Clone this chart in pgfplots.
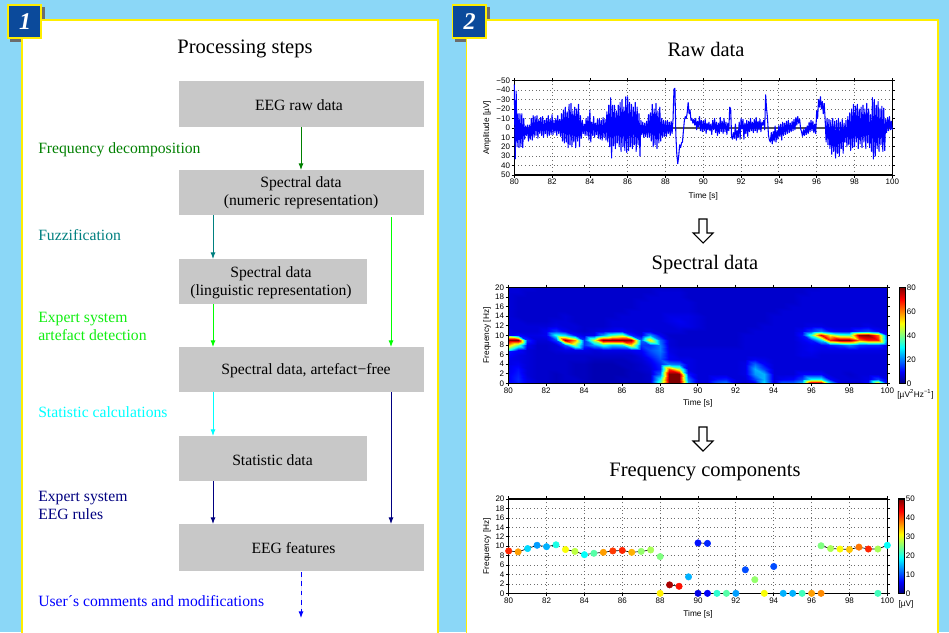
\documentclass[border=0pt]{standalone}
\usepackage{fontspec}
\setmainfont{Liberation Serif}
\newfontfamily\lsans{Liberation Sans}
\usepackage{pgfplots}
\usepackage{pgfplotstable}
\pgfplotsset{compat=1.18}
\usetikzlibrary{arrows.meta}
\definecolor{bgblue}{HTML}{8BD7F7}
\definecolor{pyellow}{HTML}{FFEE00}
\definecolor{lblue}{HTML}{0B4A9B}
\definecolor{boxgray}{HTML}{C8C8C8}
\definecolor{zline}{HTML}{555555}
\definecolor{limetext}{HTML}{11EE11}
\definecolor{cgreen}{RGB}{0,128,0}
\definecolor{cteal}{RGB}{0,128,128}
\definecolor{clime}{RGB}{0,255,0}
\definecolor{ccyan}{RGB}{0,255,255}
\definecolor{cnavy}{RGB}{0,0,128}
\definecolor{cblue}{RGB}{0,0,255}
\pgfplotsset{
 eegaxis/.style={scale only axis,anchor=south west,clip=false,
  xmin=80,xmax=100,xtick={80,82,...,100},
  tick align=outside,major tick length=2pt,
  tick style={black,line width=0.5pt},
  /pgf/number format/assume math mode=true,
  tick label style={font=\lsans\fontsize{6}{7}\selectfont,inner sep=1pt},
  xticklabel style={/pgf/number format/1000 sep={}},
  colormap/jet},
 dotgrid/.style={grid=major,grid style={gray!85!black,dash pattern=on 0.7pt off 2pt,line width=0.6pt}},
 cbstyle/.style={/pgf/number format/assume math mode=true,major tick length=0pt,
  tick label style={font=\lsans\fontsize{6}{7}\selectfont,inner sep=1pt}},
}
\newcommand{\axlab}{\lsans\fontsize{6.2}{7}\selectfont}
% Raw signal, one value every 0.05 s from 80 s
\pgfplotstableread[row sep=crcr]{v\\
-46\\33\\-39\\20\\-15\\21\\-15\\20\\-15\\21\\-10\\12\\-2\\8\\-3\\14\\-3\\12\\-10\\13\\
-13\\10\\-12\\8\\-13\\11\\-9\\6\\-11\\8\\-12\\10\\-8\\6\\-10\\9\\-13\\8\\-9\\7\\
-14\\7\\-8\\5\\-10\\8\\-13\\6\\-9\\9\\-15\\14\\-19\\16\\-22\\15\\-17\\21\\-25\\18\\
-26\\20\\-18\\15\\-22\\21\\-20\\14\\-25\\20\\-13\\11\\-8\\6\\-4\\8\\-10\\8\\-12\\13\\
-19\\15\\-6\\8\\-12\\10\\-5\\7\\-9\\11\\-10\\12\\-8\\13\\-11\\10\\-9\\13\\-17\\15\\
-24\\20\\-32\\32\\-24\\19\\-24\\22\\-18\\16\\-24\\20\\-27\\25\\-30\\20\\-22\\24\\-33\\26\\
-33\\24\\-27\\20\\-25\\22\\-22\\18\\-27\\25\\-22\\18\\-15\\30\\-8\\7\\-6\\10\\-5\\9\\
-7\\10\\-14\\10\\-16\\14\\-25\\20\\-20\\18\\-26\\22\\-18\\16\\-22\\14\\-10\\10\\-8\\9\\
-7\\9\\-8\\6\\-6\\8\\-7\\6\\-9\\-41\\-42\\8\\28\\38\\30\\18\\21\\16\\15\\3\\
-8\\-12\\-10\\-16\\-27\\-15\\-19\\-8\\-10\\-5\\-9\\-3\\-10\\2\\-7\\-1\\-12\\3\\-8\\4\\
-7\\3\\-9\\6\\-5\\2\\-6\\3\\-4\\7\\-8\\2\\-10\\5\\-6\\8\\-5\\6\\-11\\4\\
-7\\6\\-10\\4\\-6\\7\\-5\\3\\-22\\-20\\10\\12\\5\\11\\-4\\13\\3\\10\\-6\\12\\
-10\\1\\-9\\12\\-5\\6\\-8\\9\\-7\\4\\-10\\3\\-6\\5\\-9\\3\\-11\\5\\-7\\2\\
-9\\4\\-6\\-3\\-8\\2\\-35\\-20\\-10\\8\\13\\15\\5\\17\\4\\14\\-2\\15\\3\\12\\
-3\\9\\-4\\13\\-6\\8\\-5\\7\\-7\\6\\-8\\5\\-5\\4\\-7\\3\\-9\\2\\-11\\-3\\
-12\\-5\\-9\\1\\4\\9\\2\\8\\0\\7\\-2\\6\\-6\\4\\-8\\3\\-7\\5\\-4\\6\\
-18\\-10\\-30\\-22\\-33\\-20\\-28\\-15\\-26\\-8\\15\\-10\\18\\-9\\22\\-8\\28\\-10\\25\\-7\\
32\\-8\\27\\-10\\30\\-6\\22\\-9\\27\\-5\\15\\-8\\20\\-12\\18\\-16\\24\\-20\\21\\-25\\
20\\-23\\15\\-25\\22\\-20\\17\\-22\\21\\-24\\15\\-20\\22\\-26\\16\\-20\\21\\-14\\25\\-32\\
33\\-30\\30\\-24\\22\\-28\\25\\-20\\18\\-23\\25\\-21\\24\\-9\\5\\-11\\3\\-12\\2\\-7\\
2\\
}\rawdata
% Spectrogram: rows 0..20 Hz, columns 80..100 s every 0.5 s
\pgfplotstableread[row sep=crcr]{z\\
10\\12\\8\\7\\6\\5\\6\\6\\5\\5\\5\\5\\5\\5\\5\\6\\38\\92\\92\\22\\7\\8\\17\\20\\8\\7\\10\\28\\8\\18\\18\\25\\88\\88\\28\\8\\7\\7\\11\\55\\11\\
9\\13\\8\\6\\6\\5\\6\\6\\5\\4\\4\\4\\5\\5\\5\\6\\30\\96\\96\\18\\7\\7\\11\\12\\7\\7\\15\\24\\7\\9\\10\\15\\30\\30\\10\\7\\7\\7\\8\\15\\8\\
9\\12\\7\\6\\6\\5\\6\\5\\5\\4\\4\\4\\4\\5\\5\\6\\18\\88\\90\\12\\7\\7\\7\\7\\7\\8\\22\\24\\7\\7\\7\\10\\10\\10\\7\\7\\6\\7\\7\\7\\7\\
9\\11\\7\\6\\6\\6\\6\\5\\5\\4\\4\\4\\4\\5\\6\\7\\12\\65\\45\\8\\7\\7\\7\\7\\7\\8\\24\\15\\7\\7\\7\\7\\7\\7\\7\\7\\7\\7\\7\\7\\7\\
8\\9\\7\\6\\6\\6\\6\\5\\5\\4\\4\\4\\5\\5\\6\\8\\13\\20\\18\\8\\7\\7\\7\\7\\7\\8\\18\\10\\7\\7\\7\\7\\7\\7\\7\\7\\7\\7\\7\\7\\7\\
8\\8\\7\\6\\6\\6\\6\\6\\6\\5\\5\\5\\5\\6\\7\\10\\16\\9\\8\\8\\7\\7\\7\\7\\7\\7\\9\\8\\7\\7\\7\\7\\7\\7\\7\\7\\7\\7\\7\\7\\7\\
9\\8\\7\\6\\6\\6\\6\\6\\6\\6\\6\\6\\6\\6\\8\\13\\18\\9\\7\\7\\7\\7\\7\\7\\7\\7\\7\\7\\7\\7\\7\\8\\8\\7\\7\\7\\7\\7\\7\\7\\7\\
12\\10\\7\\6\\6\\7\\8\\8\\8\\7\\8\\8\\8\\9\\10\\16\\20\\8\\7\\7\\7\\7\\7\\7\\7\\7\\7\\7\\7\\7\\7\\8\\9\\8\\8\\8\\8\\8\\8\\8\\7\\
32\\38\\9\\6\\6\\7\\16\\42\\14\\22\\32\\26\\28\\52\\14\\14\\20\\7\\6\\6\\6\\6\\6\\6\\6\\7\\7\\7\\7\\7\\7\\8\\9\\9\\12\\15\\20\\14\\13\\13\\8\\
88\\90\\13\\7\\7\\15\\78\\58\\14\\46\\92\\98\\98\\78\\18\\52\\18\\7\\6\\6\\6\\6\\6\\6\\6\\7\\7\\7\\7\\7\\7\\9\\12\\28\\68\\82\\88\\60\\68\\68\\16\\
32\\11\\8\\8\\9\\32\\28\\11\\8\\9\\22\\36\\42\\13\\8\\22\\9\\6\\6\\6\\6\\6\\6\\6\\6\\7\\7\\7\\7\\7\\7\\11\\36\\72\\50\\38\\36\\78\\88\\62\\12\\
9\\7\\7\\7\\9\\14\\9\\7\\6\\7\\8\\9\\10\\8\\7\\8\\7\\7\\7\\6\\6\\6\\6\\6\\6\\6\\7\\7\\7\\7\\7\\9\\14\\20\\11\\9\\9\\14\\16\\10\\8\\
7\\7\\7\\7\\7\\8\\7\\7\\6\\6\\6\\7\\7\\7\\7\\7\\7\\7\\8\\8\\7\\6\\6\\6\\6\\6\\6\\7\\7\\7\\7\\7\\8\\8\\7\\7\\7\\7\\8\\7\\7\\
7\\7\\6\\6\\6\\7\\7\\6\\6\\6\\6\\7\\7\\7\\7\\7\\7\\8\\9\\8\\7\\6\\6\\6\\6\\6\\6\\6\\7\\7\\7\\7\\7\\7\\7\\7\\7\\7\\7\\7\\7\\
7\\6\\6\\6\\6\\6\\7\\6\\6\\6\\6\\6\\7\\7\\7\\7\\7\\8\\8\\8\\7\\6\\6\\6\\6\\6\\6\\6\\7\\7\\7\\7\\7\\7\\7\\7\\7\\7\\7\\7\\7\\
7\\6\\6\\6\\6\\6\\6\\6\\6\\6\\6\\6\\6\\7\\7\\7\\7\\7\\7\\7\\6\\6\\6\\6\\6\\6\\6\\6\\6\\7\\7\\7\\7\\7\\7\\7\\7\\7\\7\\7\\7\\
7\\6\\6\\6\\6\\6\\6\\6\\6\\6\\6\\6\\6\\6\\7\\7\\7\\7\\7\\7\\6\\6\\6\\6\\6\\6\\6\\6\\6\\6\\7\\7\\7\\7\\7\\7\\7\\7\\7\\7\\7\\
7\\6\\6\\6\\6\\6\\6\\6\\6\\6\\6\\6\\6\\6\\7\\7\\7\\7\\7\\7\\6\\6\\6\\6\\6\\6\\6\\6\\6\\6\\6\\7\\7\\7\\7\\7\\7\\7\\7\\7\\7\\
7\\6\\6\\6\\6\\6\\6\\6\\6\\6\\6\\6\\6\\6\\6\\7\\7\\7\\7\\6\\6\\6\\6\\6\\6\\6\\6\\6\\6\\6\\6\\7\\7\\7\\7\\7\\7\\7\\7\\7\\7\\
7\\7\\6\\6\\6\\6\\6\\6\\6\\6\\6\\6\\6\\6\\6\\6\\7\\7\\7\\6\\6\\6\\6\\6\\6\\6\\6\\6\\6\\6\\6\\6\\7\\7\\7\\7\\7\\7\\7\\7\\7\\
7\\7\\7\\6\\6\\6\\6\\6\\6\\6\\6\\6\\6\\6\\6\\6\\6\\6\\6\\6\\6\\6\\6\\6\\6\\6\\6\\6\\6\\6\\6\\6\\6\\7\\7\\7\\7\\7\\7\\7\\7\\
}\specdata
% Frequency components: time, frequency, amplitude
\pgfplotstableread{
t f a
80 9.0 42
80.5 8.8 36
81 9.5 17
81.5 10.2 14
82 9.9 15
82.5 10.3 20
83 9.3 31
83.5 8.9 28
84 8.2 19
84.5 8.5 23
85 8.7 36
85.5 9.0 41
86 9.1 42
86.5 8.7 35
87 8.9 26
87.5 9.2 27
88 7.8 25
88.5 1.8 48
89 1.5 43
89.5 3.5 15
90 10.7 7
90.5 10.6 8
92.5 5.0 10
93 2.9 26
94 5.7 10
96.5 10.1 25
97 9.5 27
97.5 9.4 31
98 9.3 34
98.5 9.8 38
99 9.4 42
99.5 9.4 27
100 10.2 19
88 0 32
90 0 5
90.5 0 6
91 0 21
91.5 0 23
92 0 14
93.5 0 31
94.5 0 15
95 0 15
95.5 0 22
96 0 36
96.5 0 37
99.5 0 22
}\compdata
\begin{document}
\begin{tikzpicture}
\begin{scope}[x=0.75pt,y=-0.75pt]
\path[use as bounding box,fill=bgblue] (0,0) rectangle (949,632);
% shadows
\fill[gray!85!black] (10,7) rectangle (45,42);
\fill[gray!85!black] (455,7) rectangle (490,42);
% panels
\begin{scope}
\clip (0,0) rectangle (949,632);
\draw[pyellow,fill=white,line width=1.4pt] (22,20) rectangle (438,640);
\draw[pyellow,fill=white,line width=1.4pt] (466.5,20) rectangle (938,640);
\end{scope}
% number tags
\draw[pyellow,fill=lblue,line width=1.4pt] (8,5) rectangle (41,38);
\draw[pyellow,fill=lblue,line width=1.4pt] (452.5,5) rectangle (486,38);
\node[white,font=\fontsize{18}{20}\selectfont\bfseries\itshape] at (25,21.5) {1};
\node[white,font=\fontsize{18}{20}\selectfont\bfseries\itshape] at (469.5,21.5) {2};
% flow chart
\fill[boxgray] (179,81) rectangle (424,127);
\fill[boxgray] (179,170) rectangle (424,215);
\fill[boxgray] (179,259) rectangle (367,304);
\fill[boxgray] (179,347) rectangle (424,392);
\fill[boxgray] (179,436) rectangle (367,481);
\fill[boxgray] (179,524) rectangle (424,571);
\tikzset{box/.style={font=\fontsize{11.75}{13.5}\selectfont,align=center},
 lab/.style={font=\fontsize{11.75}{13.5}\selectfont,anchor=west,align=left,inner sep=0pt},
 arr/.style={line width=0.7pt,-{Latex[length=5pt,width=3.8pt]}}}
\node[box] at (299,105.5) {EEG raw data};
\node[box] at (301,193) {Spectral data\\(numeric representation)};
\node[box] at (271,282.5) {Spectral data\\(linguistic representation)};
\node[box] at (306,370.5) {Spectral data, artefact−free};
\node[box] at (272.5,460.5) {Statistic data};
\node[box] at (293.5,548.5) {EEG features};
\draw[arr,draw=cgreen,fill=cgreen] (301,127) -- (301,170);
\draw[arr,draw=cteal,fill=cteal] (213,215) -- (213,259);
\draw[arr,draw=clime,fill=clime] (213,304) -- (213,347);
\draw[arr,draw=clime,fill=clime] (391,217) -- (391,347);
\draw[arr,draw=ccyan,fill=ccyan] (213,392) -- (213,436);
\draw[arr,draw=cnavy,fill=cnavy] (213,481) -- (213,524);
\draw[arr,draw=cnavy,fill=cnavy] (391,392) -- (391,524);
\draw[arr,draw=cblue,fill=cblue,dash pattern=on 3.5pt off 3.5pt] (301,572) -- (301,618);
\node[lab,text=cgreen] at (38,149.5) {Frequency decomposition};
\node[lab,text=cteal] at (38,235) {Fuzzification};
\node[lab,text=limetext] at (38,326.5) {Expert system\\artefact detection};
\node[lab,text=ccyan] at (38,412.5) {Statistic calculations};
\node[lab,text=cnavy] at (38,505.5) {Expert system\\EEG rules};
\node[lab,text=cblue] at (38,601.5) {User´s comments and modifications};
% titles
\tikzset{ttl/.style={font=\fontsize{15.4}{17}\selectfont}}
\node[ttl] at (245,48.5) {Processing steps};
\node[ttl] at (706,49.5) {Raw data};
\node[ttl] at (705,265) {Spectral data};
\node[ttl] at (705,472) {Frequency components};
% hollow arrows
\draw[black,line width=0.8pt,line join=miter] (699,219) -- (707,219) -- (707,233) -- (713,233) -- (703,243) -- (693,233) -- (699,233) -- cycle;
\draw[black,line width=0.8pt,line join=miter] (699,427) -- (707,427) -- (707,441) -- (713,441) -- (703,451) -- (693,441) -- (699,441) -- cycle;
\end{scope}

% Raw data
\begin{axis}[eegaxis,dotgrid,at={(385.7pt,-131.25pt)},width=283.5pt,height=70.7pt,
 ymin=-50,ymax=50,y dir=reverse,
 ytick={-50,-40,...,50},
 yticklabels={−50,−40,−30,−20,−10,0,10,20,30,40,50},
 axis line style={line width=0.9pt},
 xlabel={Time [s]},ylabel={Amplitude [µV]},
 every axis x label/.style={at={(axis description cs:0.5,-0.23)},anchor=center,font=\axlab},
 every axis y label/.style={at={(axis description cs:-0.072,0.5)},anchor=center,rotate=90,font=\axlab}]
\addplot[zline,line width=1pt] coordinates {(80,0) (100,0)};
\addplot[blue,line width=0.8pt,line join=round] table[x expr=80+0.05*\coordindex,y=v]{\rawdata};
\end{axis}

% Spectral data
\begin{axis}[eegaxis,at={(381.2pt,-287.5pt)},width=284.25pt,height=72pt,
 ymin=0,ymax=20,ytick={0,2,...,20},axis on top,
 point meta min=0,point meta max=80,
 axis line style={line width=0.5pt},
 xlabel={Time [s]},ylabel={Frequency [Hz]},
 every axis x label/.style={at={(axis description cs:0.5,-0.205)},anchor=center,font=\axlab},
 every axis y label/.style={at={(axis description cs:-0.056,0.5)},anchor=center,rotate=90,font=\axlab},
 colorbar,colorbar style={cbstyle,at={(1.0316,0)},anchor=south west,width=4.5pt,height=72pt,
   ytick={0,20,...,80},yticklabel pos=right,axis line style={line width=0.5pt}}]
\addplot[surf,shader=interp,mesh/cols=41,point meta=explicit]
 table[x expr={80+0.5*mod(\coordindex,41)},y expr={floor(\coordindex/41)},x index=0,y index=0,meta=z]{\specdata};
\end{axis}

% Frequency components
\begin{axis}[eegaxis,dotgrid,at={(381.5pt,-445pt)},width=284pt,height=70.7pt,
 ymin=0,ymax=20,ytick={0,2,...,20},
 point meta min=0,point meta max=50,
 axis line style={line width=0.9pt},
 xlabel={Time [s]},ylabel={Frequency [Hz]},
 every axis x label/.style={at={(axis description cs:0.5,-0.22)},anchor=center,font=\axlab},
 every axis y label/.style={at={(axis description cs:-0.057,0.5)},anchor=center,rotate=90,font=\axlab},
 colorbar,colorbar style={cbstyle,at={(1.029,0)},anchor=south west,width=4.5pt,height=70.7pt,
   ytick={0,10,...,50},yticklabel pos=right,axis line style={line width=0.9pt}}]
\addplot[black,line width=0.5pt] coordinates {(80,9.0) (80.5,8.8) (81,9.5) (81.5,10.2) (82,9.9) (82.5,10.3)};
\addplot[black,line width=0.5pt] coordinates {(83,9.3) (83.5,8.9) (84,8.2) (84.5,8.5) (85,8.7) (85.5,9.0) (86,9.1) (86.5,8.7) (87,8.9) (87.5,9.2)};
\addplot[black,line width=0.5pt] coordinates {(88.5,1.8) (89,1.5)};
\addplot[black,line width=0.5pt] coordinates {(90,10.7) (90.5,10.6)};
\addplot[black,line width=0.5pt] coordinates {(96.5,10.1) (97,9.5) (97.5,9.4) (98,9.3) (98.5,9.8) (99,9.4) (99.5,9.4) (100,10.2)};
\addplot[scatter,only marks,mark=*,mark size=2.4pt,
 scatter/use mapped color={draw=mapped color,fill=mapped color},point meta=explicit]
 table[x=t,y=f,meta=a]{\compdata};
\end{axis}

\begin{scope}[x=0.75pt,y=-0.75pt]
\node[font=\axlab,inner sep=0pt] at (915.5,394.5) {[µV\textsuperscript{2}Hz\textsuperscript{−1}]};
\node[font=\axlab,inner sep=0pt] at (906,604.5) {[µV]};
\end{scope}
\end{tikzpicture}
\end{document}
